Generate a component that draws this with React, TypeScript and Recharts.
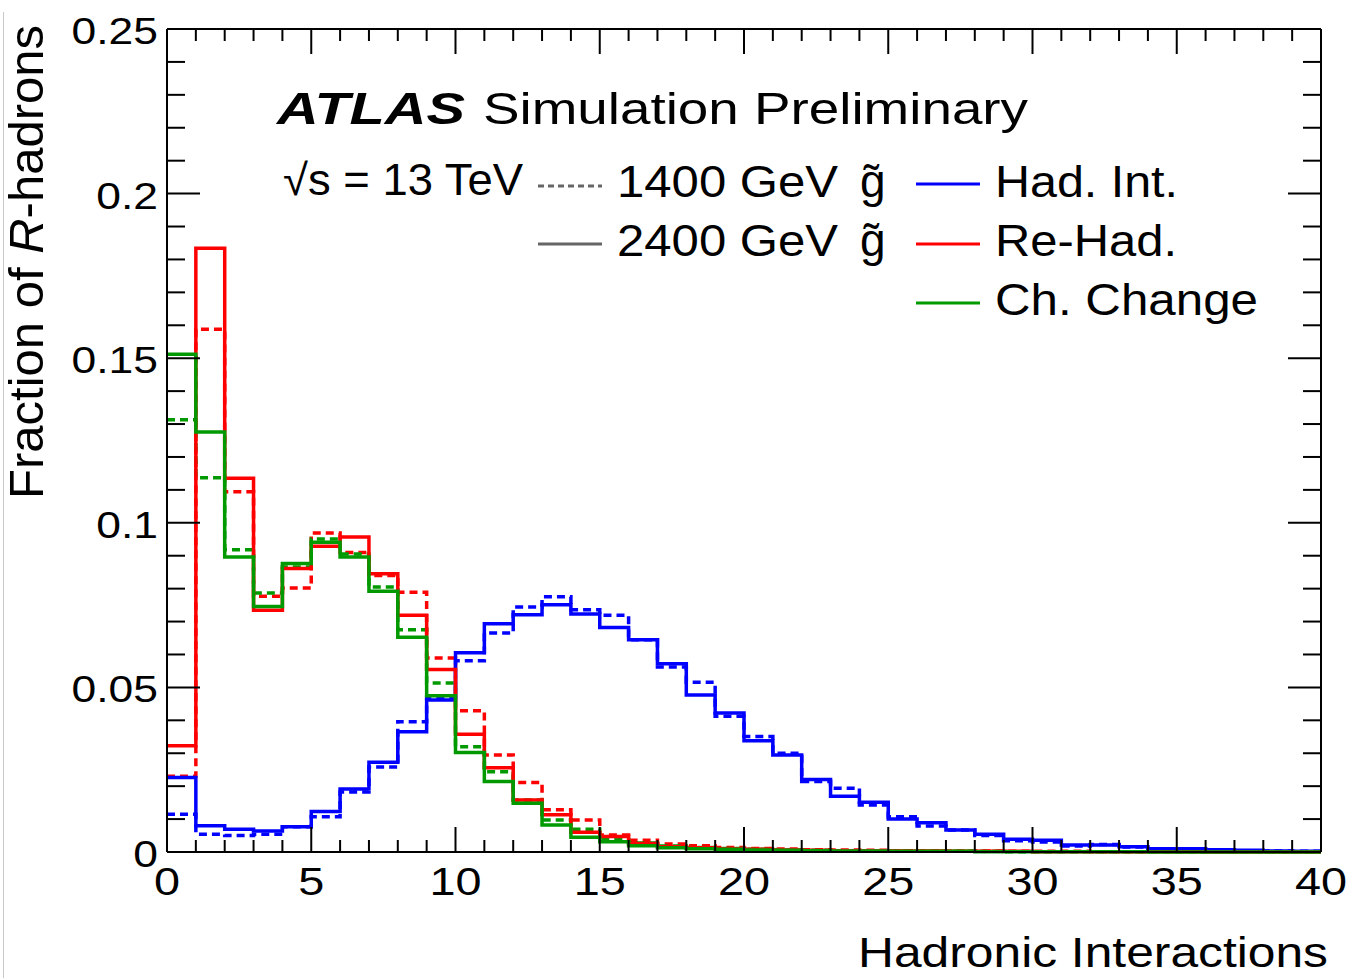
import { ComposedChart, Line, XAxis, YAxis, Customized } from 'recharts';

const W = 1347;
const H = 978;
const FONT = '"Liberation Sans", Arial, Helvetica, sans-serif';

// bin edges of the histograms (40 bins of width 1)
const EDGES = [
  0, 1, 2, 3, 4, 5, 6, 7, 8, 9, 10, 11, 12, 13, 14, 15, 16, 17, 18, 19, 20,
  21, 22, 23, 24, 25, 26, 27, 28, 29, 30, 31, 32, 33, 34, 35, 36, 37, 38, 39, 40,
];

const X_TICKS = EDGES;
const Y_TICKS = [
  0, 0.01, 0.02, 0.03, 0.04, 0.05, 0.06, 0.07, 0.08, 0.09, 0.1, 0.11, 0.12, 0.13,
  0.14, 0.15, 0.16, 0.17, 0.18, 0.19, 0.2, 0.21, 0.22, 0.23, 0.24, 0.25,
];

// 2400 GeV gluino (solid)
const hadInt2400 = [
  0.0226, 0.008, 0.0069, 0.0064, 0.0077, 0.0123, 0.0191, 0.0273, 0.0365, 0.0462,
  0.0605, 0.0693, 0.0721, 0.0751, 0.0723, 0.0682, 0.0645, 0.0572, 0.0477, 0.0422,
  0.0338, 0.0295, 0.022, 0.0169, 0.0151, 0.01, 0.0089, 0.0067, 0.0054, 0.0039,
  0.0036, 0.0021, 0.0021, 0.0016, 0.001, 0.001, 0.0007, 0.0005, 0.0003, 0.0002,
];
const reHad2400 = [
  0.0323, 0.1834, 0.1135, 0.0734, 0.0861, 0.0929, 0.0957, 0.0845, 0.0719, 0.0554,
  0.0358, 0.0256, 0.0158, 0.0113, 0.006, 0.0047, 0.0026, 0.0016, 0.0013, 0.001,
  0.0008, 0.0006, 0.0005, 0.0004, 0.0004, 0.0003, 0.0003, 0.0002, 0.0002, 0.0002,
  0.0001, 0.0001, 0.0001, 0.0001, 0.0001, 0.0001, 0.0, 0.0, 0.0, 0.0,
];
const chChange2400 = [
  0.1512, 0.1276, 0.0896, 0.0746, 0.0876, 0.0941, 0.0896, 0.0792, 0.0652, 0.0475,
  0.0302, 0.0214, 0.0148, 0.0082, 0.0045, 0.0031, 0.0019, 0.0013, 0.001, 0.0008,
  0.0006, 0.0005, 0.0004, 0.0003, 0.0003, 0.0002, 0.0002, 0.0002, 0.0001, 0.0001,
  0.0001, 0.0001, 0.0001, 0.0001, 0.0, 0.0, 0.0, 0.0, 0.0, 0.0,
];

// 1400 GeV gluino (dashed)
const hadInt1400 = [
  0.0115, 0.0054, 0.005, 0.0054, 0.0077, 0.0107, 0.0182, 0.0258, 0.0396, 0.047,
  0.0581, 0.0665, 0.0744, 0.0775, 0.0736, 0.0719, 0.0645, 0.0562, 0.0516, 0.0412,
  0.0351, 0.03, 0.0214, 0.0194, 0.0143, 0.0107, 0.0079, 0.0067, 0.005, 0.0034,
  0.003, 0.0018, 0.0023, 0.0015, 0.0009, 0.0008, 0.0006, 0.0004, 0.0003, 0.0002,
];
const reHad1400 = [
  0.023, 0.1588, 0.1094, 0.0777, 0.0802, 0.0969, 0.091, 0.084, 0.0789, 0.0589,
  0.0429, 0.0295, 0.0211, 0.0128, 0.0097, 0.0052, 0.0036, 0.0024, 0.0019, 0.0014,
  0.0011, 0.0009, 0.0007, 0.0006, 0.0005, 0.0004, 0.0004, 0.0003, 0.0003, 0.0002,
  0.0002, 0.0002, 0.0001, 0.0001, 0.0001, 0.0001, 0.0001, 0.0, 0.0, 0.0,
];
const chChange1400 = [
  0.1313, 0.1137, 0.0918, 0.0787, 0.0866, 0.0951, 0.0905, 0.0805, 0.0675, 0.0513,
  0.032, 0.0244, 0.0158, 0.0097, 0.0069, 0.0038, 0.0027, 0.0018, 0.0014, 0.0011,
  0.0008, 0.0006, 0.0005, 0.0004, 0.0003, 0.0003, 0.0002, 0.0002, 0.0002, 0.0001,
  0.0001, 0.0001, 0.0001, 0.0001, 0.0001, 0.0, 0.0, 0.0, 0.0, 0.0,
];

// one row per bin edge; the last edge repeats the last bin so the step reaches x = 40
const rows = EDGES.map((x, i) => {
  const b = Math.min(i, 39);
  return {
    x,
    hadInt2400: hadInt2400[b],
    reHad2400: reHad2400[b],
    chChange2400: chChange2400[b],
    hadInt1400: hadInt1400[b],
    reHad1400: reHad1400[b],
    chChange1400: chChange1400[b],
  };
});

const BLUE = '#0000ff';
const RED = '#ff0000';
const GREEN = '#009a00';
const DASH = '8 5';
const LW = 3.5;

const fmtY = (v: number) => String(Number(v.toFixed(2)));

// ROOT-style ticks: pointing into the frame, long ones at the labelled values
const BottomTick = ({ x, y, payload }: any) => {
  const v = payload.value;
  const major = v % 5 === 0;
  return (
    <g>
      <line x1={x} y1={y} x2={x} y2={y - (major ? 25 : 12)} stroke="#000" strokeWidth={2} />
      {major && (
        <text
          transform={`translate(${x},${y + 43}) scale(1.2,1)`}
          textAnchor="middle"
          fontFamily={FONT}
          fontSize={39}
          fill="#000"
        >
          {v}
        </text>
      )}
    </g>
  );
};

const TopTick = ({ x, y, payload }: any) => {
  const major = payload.value % 5 === 0;
  return <line x1={x} y1={y} x2={x} y2={y + (major ? 25 : 12)} stroke="#000" strokeWidth={2} />;
};

const LeftTick = ({ x, y, payload }: any) => {
  const v = payload.value;
  const major = Math.round(v * 100) % 5 === 0;
  return (
    <g>
      <line x1={x} y1={y} x2={x + (major ? 33 : 18)} y2={y} stroke="#000" strokeWidth={2} />
      {major && (
        <text
          transform={`translate(${x - 9},${y + 15}) scale(1.2,1)`}
          textAnchor="end"
          fontFamily={FONT}
          fontSize={37}
          fill="#000"
        >
          {fmtY(v)}
        </text>
      )}
    </g>
  );
};

const RightTick = ({ x, y, payload }: any) => {
  const major = Math.round(payload.value * 100) % 5 === 0;
  return <line x1={x} y1={y} x2={x - (major ? 33 : 18)} y2={y} stroke="#000" strokeWidth={2} />;
};

const T = (p: any) => <text fontFamily={FONT} fill="#000" lengthAdjust="spacingAndGlyphs" {...p} />;

const Annotations = () => (
  <g>
    {/* axis titles */}
    <T x={1328} y={967} fontSize={42} textAnchor="end" textLength={470}>
      Hadronic Interactions
    </T>
    <text transform="translate(43,25) rotate(-90)" textAnchor="end" fontFamily={FONT} fontSize={49} fill="#000">
      Fraction of <tspan fontStyle="italic">R</tspan>-hadrons
    </text>

    {/* experiment label */}
    <T x={277} y={124} fontSize={45} fontWeight="bold" fontStyle="italic" textLength={188}>
      ATLAS
    </T>
    <T x={483} y={124} fontSize={45} textLength={545}>
      Simulation Preliminary
    </T>
    <T x={283} y={195} fontSize={44} textLength={240}>
      √s = 13 TeV
    </T>

    {/* mass legend */}
    <line x1={538} y1={186} x2={602} y2={186} stroke="#666" strokeWidth={3} strokeDasharray="6 4" />
    <T x={617} y={197} fontSize={45} textLength={221}>
      1400 GeV
    </T>
    <T x={860} y={197} fontSize={46}>
      g̃
    </T>
    <line x1={538} y1={244} x2={602} y2={244} stroke="#666" strokeWidth={3} />
    <T x={617} y={256} fontSize={45} textLength={221}>
      2400 GeV
    </T>
    <T x={860} y={256} fontSize={46}>
      g̃
    </T>

    {/* process legend */}
    <line x1={916} y1={184} x2={980} y2={184} stroke={BLUE} strokeWidth={3} />
    <T x={995} y={197} fontSize={45} textLength={183}>
      Had. Int.
    </T>
    <line x1={916} y1={244} x2={980} y2={244} stroke={RED} strokeWidth={3} />
    <T x={995} y={256} fontSize={45} textLength={182}>
      Re-Had.
    </T>
    <line x1={916} y1={303} x2={980} y2={303} stroke={GREEN} strokeWidth={3} />
    <T x={995} y={315} fontSize={45} textLength={263}>
      Ch. Change
    </T>
  </g>
);

export default function App() {
  return (
    <div style={{ position: 'absolute', left: 0, top: 0, width: W, height: H, background: '#fff' }}>
      <div style={{ position: 'absolute', left: 3, top: 12, width: 1, height: H - 12, background: '#c8c8c8' }} />
      <ComposedChart width={W} height={H} data={rows} margin={{ top: 28, right: 25, bottom: 0, left: 0 }}>
        <XAxis
          dataKey="x"
          type="number"
          domain={[0, 40]}
          ticks={X_TICKS}
          interval={0}
          height={126}
          tickSize={0}
          tickMargin={0}
          tickLine={false}
          tick={<BottomTick />}
          axisLine={{ stroke: '#000', strokeWidth: 2 }}
        />
        {/* mirror axes close the frame; the 1400 GeV curves are plotted against them (same domains) */}
        <XAxis
          xAxisId="top"
          orientation="top"
          dataKey="x"
          type="number"
          domain={[0, 40]}
          ticks={X_TICKS}
          interval={0}
          height={1}
          tickSize={0}
          tickMargin={0}
          tickLine={false}
          tick={<TopTick />}
          axisLine={{ stroke: '#000', strokeWidth: 2 }}
        />
        <YAxis
          type="number"
          domain={[0, 0.25]}
          ticks={Y_TICKS}
          interval={0}
          width={167}
          tickSize={0}
          tickMargin={0}
          tickLine={false}
          tick={<LeftTick />}
          axisLine={{ stroke: '#000', strokeWidth: 2 }}
        />
        <YAxis
          yAxisId="right"
          orientation="right"
          type="number"
          domain={[0, 0.25]}
          ticks={Y_TICKS}
          interval={0}
          width={1}
          tickSize={0}
          tickMargin={0}
          tickLine={false}
          tick={<RightTick />}
          axisLine={{ stroke: '#000', strokeWidth: 2 }}
        />

        <Line xAxisId="top" yAxisId="right" type="stepAfter" dataKey="hadInt1400" stroke={BLUE} strokeWidth={LW} strokeDasharray={DASH} dot={false} isAnimationActive={false} />
        <Line xAxisId="top" yAxisId="right" type="stepAfter" dataKey="reHad1400" stroke={RED} strokeWidth={LW} strokeDasharray={DASH} dot={false} isAnimationActive={false} />
        <Line xAxisId="top" yAxisId="right" type="stepAfter" dataKey="chChange1400" stroke={GREEN} strokeWidth={LW} strokeDasharray={DASH} dot={false} isAnimationActive={false} />
        <Line type="stepAfter" dataKey="hadInt2400" stroke={BLUE} strokeWidth={LW} dot={false} isAnimationActive={false} />
        <Line type="stepAfter" dataKey="reHad2400" stroke={RED} strokeWidth={LW} dot={false} isAnimationActive={false} />
        <Line type="stepAfter" dataKey="chChange2400" stroke={GREEN} strokeWidth={LW} dot={false} isAnimationActive={false} />

        <Customized component={<Annotations />} />
      </ComposedChart>
    </div>
  );
}
